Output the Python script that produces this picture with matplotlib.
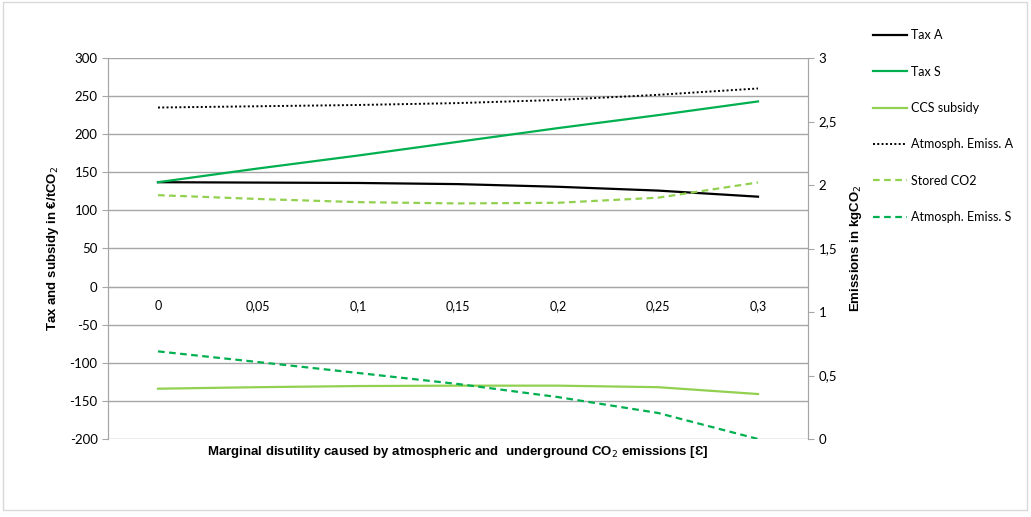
import matplotlib.pyplot as plt
from matplotlib.patches import Rectangle
import numpy as np

plt.rcParams['font.family'] = ['Lato', 'DejaVu Sans']
plt.rcParams['axes.unicode_minus'] = False

x_labels = ["0", "0,05", "0,1", "0,15", "0,2", "0,25", "0,3"]

# left axis (tax / subsidy, EUR/tCO2)
tax_a = [137, 136.5, 136, 134.5, 131, 126, 118]
tax_s = [137, 155, 172, 190, 208, 225, 243]
ccs_subsidy = [-134, -132, -130.5, -130, -130, -132, -141]

# right axis (emissions, kgCO2)
atm_emiss_a = [2.61, 2.62, 2.63, 2.645, 2.67, 2.71, 2.76]
stored_co2 = [1.92, 1.89, 1.865, 1.855, 1.86, 1.90, 2.02]
atm_emiss_s = [0.69, 0.606, 0.52, 0.433, 0.33, 0.205, 0.0]

green = "#00B050"
light_green = "#92D050"
grid_col = "#A6A6A6"
bold_font = ['Liberation Sans Narrow', 'Liberation Sans', 'DejaVu Sans']

fig = plt.figure(figsize=(10.31, 5.17), dpi=100)
ax = fig.add_axes([108/1031, 1-439/517, 700/1031, 381/517])
ax2 = ax.twinx()

x = np.arange(len(x_labels))

l1, = ax.plot(x, tax_a, color="black", lw=1.6, label="Tax A")
l2, = ax.plot(x, tax_s, color=green, lw=1.6, label="Tax S")
l3, = ax.plot(x, ccs_subsidy, color=light_green, lw=1.6, label="CCS subsidy")
l4, = ax2.plot(x, atm_emiss_a, color="black", lw=1.4, ls=(0, (1, 1.2)), label="Atmosph. Emiss. A")
l5, = ax2.plot(x, stored_co2, color=light_green, lw=1.6, ls=(0, (3, 2)), label="Stored CO2")
l6, = ax2.plot(x, atm_emiss_s, color=green, lw=1.6, ls=(0, (3, 2)), label="Atmosph. Emiss. S")

ax.set_xlim(-0.5, 6.5)
ax.set_ylim(-200, 300)
ax.set_yticks(np.arange(-200, 301, 50))
ax2.set_ylim(0, 3)
ax2.set_yticks(np.arange(0, 3.01, 0.5))
ax2.set_yticklabels(["0", "0,5", "1", "1,5", "2", "2,5", "3"])

ax.set_xticks(x)
ax.set_xticklabels(x_labels)
ax.spines['bottom'].set_position(('data', 0))
ax.spines['bottom'].set_color(grid_col)
ax.tick_params(axis='x', length=0, pad=10, labelsize=9)
ax.tick_params(axis='y', length=4, color=grid_col, labelsize=9.5)
ax2.tick_params(axis='y', length=4, color=grid_col, labelsize=9.5)

for y in np.arange(-200, 301, 50):
    ax.axhline(y, color=grid_col, lw=1, zorder=0)

for a in (ax, ax2):
    a.spines['top'].set_visible(False)
    a.spines['left'].set_color(grid_col)
    a.spines['right'].set_color(grid_col)
ax2.spines['bottom'].set_visible(False)

ax.set_ylabel("Tax and subsidy in €/tCO$_2$", fontsize=9.5, fontweight="bold",
              family=bold_font, labelpad=6)
ax2.set_ylabel("Emissions in kgCO$_2$", fontsize=9.5, fontweight="bold",
               family=bold_font, labelpad=8)
fig.text(458/1031, 1-452/517, "Marginal disutility caused by atmospheric and  underground CO$_2$ emissions [Ɛ]",
         ha="center", va="center", fontsize=9.5, fontweight="bold", family=bold_font)

fig.legend(handles=[l1, l2, l3, l4, l5, l6], loc="upper left",
           bbox_to_anchor=(862/1031, 1-18/517), frameon=False, fontsize=9,
           handlelength=2.7, handletextpad=0.3, labelspacing=1.95)

fig.patches.append(Rectangle((0.003, 1-510/517), 1024/1031, 508/517, transform=fig.transFigure,
                             fill=False, edgecolor="#D9D9D9", lw=1))

fig.savefig("out.png", dpi=100)
